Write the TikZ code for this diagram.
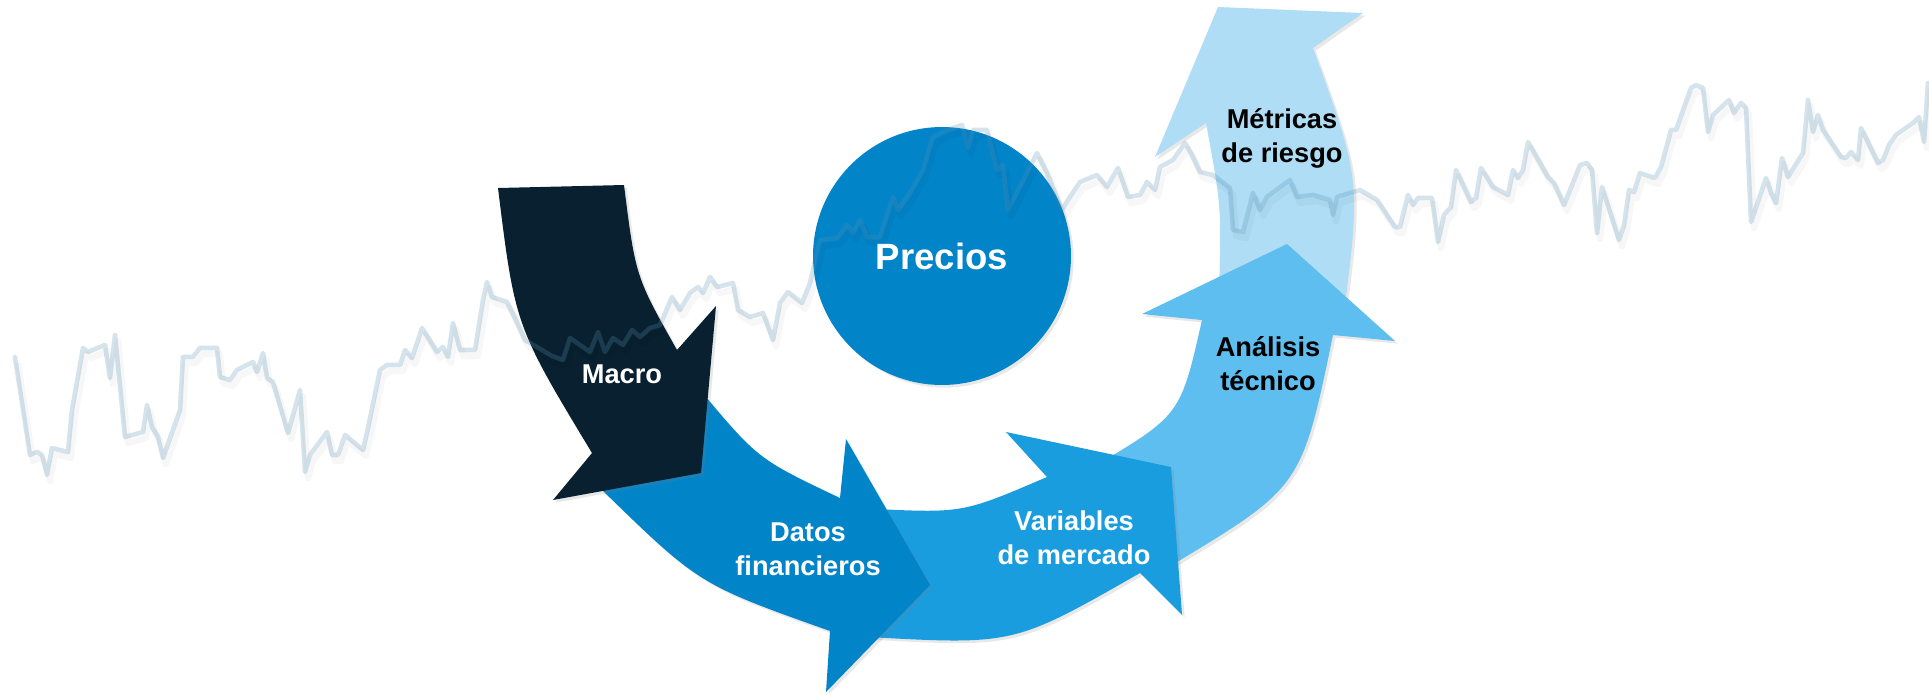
\documentclass[tikz,border=0pt]{standalone}
\usepackage{fontspec}
\setmainfont{Liberation Sans}
\usetikzlibrary{shadows}
\definecolor{macrocol}{RGB}{8,32,47}
\definecolor{datoscol}{RGB}{2,132,201}
\definecolor{varcol}{RGB}{26,157,223}
\definecolor{anacol}{RGB}{93,190,239}
\definecolor{metcol}{RGB}{174,221,245}
\definecolor{seriecol}{RGB}{88,144,180}

\begin{document}
\begin{tikzpicture}[x=0.02cm,y=-0.02cm,
    flecha/.style={drop shadow={opacity=0.18,shadow xshift=1.5pt,shadow yshift=-1.5pt}},
    lbl/.style={align=center,font=\bfseries\fontsize{15.5}{19.3}\selectfont},
    serie/.style={draw=seriecol,draw opacity=0.25,line width=2.6pt,line join=round,line cap=round},
    sombra/.style={draw=black,draw opacity=0.03,line width=3.6pt,line join=round,shift={(3,6)}}]
  \useasboundingbox[fill=white] (0,0) rectangle (1929,694);

  \fill[flecha,metcol] (1221,300) -- (1219,290) .. controls (1221.5,207.5) .. (1206,123)
    -- (1155,157) -- (1218,7) -- (1363,13) -- (1313,48) .. controls (1361,180) .. (1343,320) -- cycle;
  \fill[flecha,anacol] (1090,472) -- (1095,466) .. controls (1180.5,415) .. (1202,320)
    -- (1142,314) -- (1287,244) -- (1395,341) -- (1333,335) .. controls (1301.5,487) .. (1172,565) -- cycle;
  \fill[flecha,varcol] (870,507) -- (875,509) .. controls (963,513) .. (1047,477)
    -- (1006,432) -- (1171,467) -- (1182,615) -- (1140,573) .. controls (1014,645) .. (868,637) -- cycle;
  \fill[flecha,datoscol] (695,386) -- (700,390) .. controls (758,459) .. (840,498)
    -- (846,439) -- (930,585) -- (826,692) -- (830,631) .. controls (699,584.5) .. (600,488) -- cycle;
  \fill[flecha,macrocol] (498,188) -- (624,185) .. controls (635.5,276.5) .. (677,350)
    -- (716,306) -- (701,473) -- (553,500) -- (592,453) .. controls (515,325.5) .. (498,188) -- cycle;

  \node[flecha,circle,fill=datoscol,minimum size=5.16cm,text=white,
    font=\bfseries\fontsize{20.8}{24}\selectfont] (precios) at (942,256) {Precios};

  \foreach \estilo in {sombra,serie}
  \draw[\estilo] plot coordinates {(15,357) (30,455) (37,452) (42,455) (47,475) (52,448) (68,452) (72,410)
    (83,348) (88,352) (105,345) (110,378) (115,335) (125,437) (143,432) (147,405) (152,427) (158,437)
    (163,458) (180,410) (183,357) (193,357) (200,348) (217,348) (220,377) (230,380) (237,370) (253,362)
    (257,372) (263,353) (267,378) (273,382) (288,433) (300,390) (305,472) (310,455) (327,432) (332,455)
    (338,455) (345,435) (363,450) (368,428) (380,370) (387,365) (400,365) (405,350) (412,358) (422,328)
    (437,352) (443,347) (448,357) (453,323) (460,350) (475,350) (483,300) (487,282) (492,297) (507,302)
    (515,318) (525,340) (537,347) (552,356) (563,360) (570,338) (580,345) (590,352) (598,332) (605,352)
    (613,338) (623,345) (632,330) (640,337) (650,328) (660,325) (672,297) (680,310) (690,293) (698,287)
    (703,293) (710,277) (717,287) (733,283) (738,310) (750,317) (763,313) (773,340) (780,303) (788,292)
    (802,303) (810,283) (820,240) (837,238) (847,225) (853,233) (860,220) (867,237) (880,237) (893,197)
    (898,210) (910,193) (923,170) (933,137) (947,130) (962,125) (968,148) (973,130) (987,130) (997,170)
    (1003,165) (1008,210) (1037,153) (1047,173) (1062,210) (1068,200) (1080,182) (1097,175) (1107,187)
    (1118,168) (1128,197) (1140,195) (1147,182) (1155,190) (1160,167) (1173,160) (1185,143) (1192,155)
    (1200,172) (1213,175) (1230,188) (1233,230) (1243,232) (1253,193) (1260,210) (1267,197) (1290,180)
    (1297,197) (1313,195) (1330,200) (1333,215) (1337,197) (1360,190) (1377,200) (1395,227) (1400,227)
    (1408,195) (1413,205) (1418,198) (1432,198) (1438,242) (1444,215) (1451,207) (1456,170) (1471,202)
    (1476,198) (1481,168) (1493,187) (1508,195) (1513,170) (1518,178) (1523,170) (1528,142) (1548,177)
    (1554,183) (1564,205) (1580,165) (1587,163) (1592,170) (1597,233) (1602,187) (1619,240) (1624,225)
    (1629,190) (1634,192) (1640,173) (1655,178) (1661,167) (1671,130) (1676,130) (1691,88) (1696,85)
    (1703,88) (1708,132) (1713,115) (1729,100) (1734,113) (1741,103) (1746,108) (1751,222) (1766,178)
    (1771,193) (1776,203) (1782,158) (1788,177) (1803,153) (1808,100) (1813,132) (1818,115) (1823,130)
    (1841,157) (1846,158) (1851,152) (1858,160) (1861,128) (1878,163) (1883,160) (1889,145) (1896,135)
    (1913,123) (1919,117) (1924,142) (1928,83)};

  \node[lbl,text=white] (macro) at (622,374) {Macro};
  \node[lbl,text=white] (datos) at (808,549) {Datos\\financieros};
  \node[lbl,text=white] (variables) at (1074,538) {Variables\\de mercado};
  \node[lbl] (analisis) at (1268,364) {Análisis\\técnico};
  \node[lbl] (metricas) at (1282,138) {Métricas\\de riesgo};
\end{tikzpicture}
\end{document}
